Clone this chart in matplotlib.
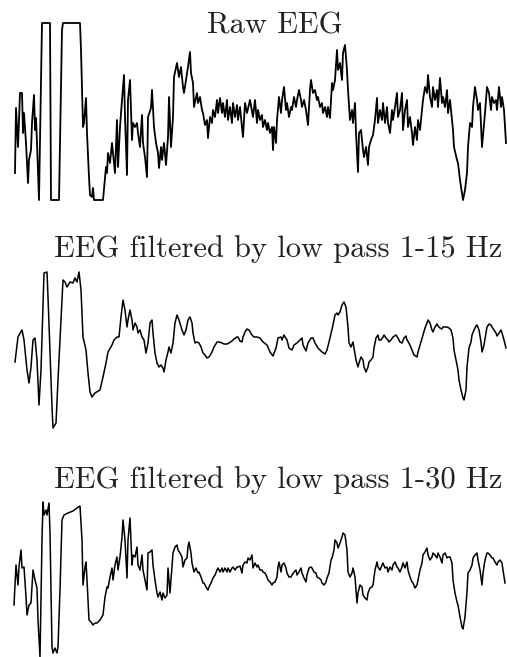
import matplotlib
matplotlib.use('Agg')
import matplotlib.pyplot as plt

# sample positions and amplitudes (arbitrary units)
t_raw = [15, 16, 18, 20, 22, 23, 24, 26, 28, 29, 31, 32, 34, 35, 36, 37, 39, 42, 50, 51,
         59, 62, 63, 80, 81, 83, 84, 86, 87, 89, 90, 92, 93, 94, 103, 106, 107, 108, 110, 112,
         113, 115, 117, 118, 120, 122, 124, 125, 127, 128, 130, 132, 133, 135, 137, 138, 140, 142, 143, 145,
         147, 148, 151, 152, 154, 156, 158, 159, 161, 162, 164, 166, 168, 169, 171, 173, 174, 177, 179, 181,
         183, 184, 186, 188, 190, 191, 193, 194, 197, 198, 200, 202, 203, 205, 207, 208, 210, 212, 213, 215,
         217, 218, 220, 222, 223, 225, 227, 228, 230, 232, 233, 235, 237, 238, 240, 243, 245, 247, 250, 253,
         255, 257, 258, 260, 262, 263, 265, 267, 268, 270, 272, 273, 274, 276, 277, 279, 281, 282, 284, 286,
         287, 289, 291, 292, 294, 296, 297, 299, 301, 302, 304, 306, 308, 310, 311, 313, 315, 317, 318, 320,
         322, 323, 325, 327, 328, 330, 332, 333, 335, 337, 338, 340, 342, 343, 345, 347, 348, 350, 352, 353,
         355, 356, 358, 359, 361, 363, 364, 366, 368, 369, 371, 373, 375, 377, 378, 380, 382, 383, 385, 387,
         388, 390, 392, 393, 395, 397, 398, 400, 402, 403, 405, 407, 408, 410, 412, 413, 415, 417, 418, 420,
         422, 423, 425, 427, 428, 430, 432, 433, 435, 437, 438, 440, 442, 443, 445, 447, 448, 450, 452, 453,
         454, 457, 458, 460, 462, 463, 465, 467, 468, 470, 472, 473, 475, 477, 478, 480, 482, 485, 487, 489,
         491, 492, 494, 496, 497, 499, 501, 502, 504, 506]
raw = [-62, 3, -36, 18, 18, -22, -2, -32, -72, -49, -39, -12, 16, -19, -7, -32, -89, 88, 88, -89,
       -89, 81, 88, 88, 61, -16, -12, 13, -22, -66, -84, -86, -77, -89, -89, -56, -62, -42, -52, -32,
       -42, -62, -9, -56, -16, 11, 36, -6, -64, 11, 31, -29, -12, -16, -12, -22, -36, -4, -32, -46,
       -66, -6, 3, 21, -16, -32, -42, -57, -36, -49, -32, -54, -26, 14, -36, -6, 34, 48, 34, 44,
       24, 18, 31, 44, 59, 38, 28, 4, 18, 8, 14, 1, -2, -14, -9, -27, -6, -12, 1, -6,
       11, -2, 13, -2, 8, -6, 11, -9, 4, -12, 8, -6, 6, -9, 4, -26, 8, -2, 11, -6,
       11, -12, 1, -9, -4, -16, -9, -19, -12, -22, -16, -39, -16, -32, -9, 14, -2, 11, 24, 1,
       8, -6, 4, 1, 14, 4, 11, 21, 11, 4, 11, 1, -14, 21, 31, 18, 21, 11, 14, 4,
       8, -2, 4, -6, 4, -7, 28, 21, 31, 61, 41, 48, 31, 58, 66, 41, 21, -9, 1, -12,
       8, -22, -61, -22, -19, -39, -46, -36, -54, -36, -29, -24, -9, 13, -12, 1, -9, 8, -12, 4,
       -12, -22, 1, -9, 4, 18, -6, 1, 18, -19, 1, 11, -16, -6, -22, -34, -16, -29, -9, -19,
       1, 11, 24, 18, 36, 14, 4, 24, 11, 21, 4, 33, 8, 14, 4, 21, -2, 11, -9, -19,
       -36, -49, -52, -69, -82, -89, -79, -62, -36, -12, -16, 4, 24, 11, 1, 8, -36, -2, 24, 18,
       1, 14, 8, 11, 1, 24, 4, 14, 1, -32]

t_lp15 = [15, 18, 22, 24, 27, 29, 31, 33, 35, 37, 39, 41, 43, 44, 47, 48, 50, 52, 53, 56,
          58, 61, 63, 65, 67, 70, 73, 75, 77, 79, 81, 83, 86, 88, 90, 92, 95, 100, 103, 106,
          108, 112, 114, 117, 119, 121, 123, 125, 127, 128, 130, 132, 133, 135, 137, 138, 140, 142, 144, 146,
          148, 150, 152, 153, 155, 157, 159, 161, 163, 164, 166, 168, 169, 171, 173, 175, 177, 179, 182, 184,
          186, 188, 190, 192, 193, 195, 197, 199, 201, 203, 205, 207, 209, 212, 214, 217, 219, 222, 224, 227,
          229, 232, 234, 237, 238, 240, 242, 243, 245, 247, 249, 252, 254, 257, 260, 263, 267, 270, 273, 276,
          278, 281, 282, 284, 287, 289, 292, 294, 297, 299, 302, 303, 306, 308, 311, 313, 315, 318, 322, 325,
          327, 330, 333, 335, 337, 338, 340, 342, 344, 346, 348, 349, 351, 353, 354, 356, 358, 359, 361, 363,
          364, 366, 368, 369, 371, 373, 374, 376, 378, 379, 381, 383, 384, 386, 388, 389, 391, 393, 396, 398,
          400, 402, 404, 406, 407, 409, 412, 414, 417, 418, 421, 423, 425, 427, 428, 430, 432, 433, 435, 437,
          438, 440, 442, 443, 445, 447, 449, 451, 453, 454, 456, 458, 459, 461, 463, 464, 466, 467, 469, 471,
          472, 474, 476, 477, 479, 481, 482, 484, 486, 487, 489, 491, 492, 494, 496, 497, 499, 501, 502, 504,
          506]
lp15 = [-12, 13, 20, 10, -20, -33, -17, 10, 12, -10, -55, -20, 47, 77, 78, 53, -3, -57, -78, -73,
        -30, 30, 70, 68, 63, 68, 67, 72, 68, 78, 60, 13, 0, -23, -42, -47, -43, -40, -27, -13,
        -2, 5, 10, 13, 13, 33, 50, 40, 23, 30, 40, 30, 20, 27, 23, 17, 20, 13, 10, -3,
        7, 27, 30, 17, -3, -13, -17, -15, -18, -22, -10, -2, 3, -3, 7, 27, 35, 30, 20, 15,
        20, 30, 33, 27, 17, 7, 8, 7, 3, -3, -5, -8, -7, -2, 3, 8, 8, 7, 6, 6,
        7, 9, 11, 13, 13, 9, 8, 13, 18, 21, 20, 15, 13, 13, 12, 8, 5, -2, -6, 2,
        12, 13, 10, 15, 10, 2, 0, 5, 7, 9, 12, 5, -1, 7, 12, 12, 7, 2, -2, -4,
        0, 12, 25, 35, 37, 35, 38, 45, 48, 43, 23, 7, 3, 8, 2, -10, -17, -13, -7, -10,
        -17, -22, -17, -12, -10, -7, 2, 12, 15, 10, 10, 13, 15, 12, 10, 8, 10, 13, 15, 12,
        8, 7, 12, 14, 10, 7, 0, -5, -7, -2, 8, 15, 22, 27, 30, 27, 20, 18, 23, 26,
        24, 22, 21, 23, 23, 23, 22, 20, 12, 0, -10, -20, -30, -40, -48, -50, -40, -17, 2, 8,
        15, 20, 24, 25, 20, 8, -2, 5, 17, 23, 26, 25, 23, 20, 17, 14, 17, 20, 17, 10,
        2]

t_lp30 = [14, 16, 18, 19, 21, 22, 24, 26, 27, 29, 31, 32, 33, 35, 37, 38, 40, 42, 43, 44,
          46, 47, 49, 50, 52, 53, 55, 57, 58, 60, 62, 64, 68, 73, 77, 80, 82, 83, 85, 86,
          87, 89, 91, 93, 95, 97, 100, 103, 105, 107, 108, 110, 112, 113, 115, 117, 118, 120, 122, 123,
          125, 127, 128, 130, 132, 133, 135, 137, 138, 140, 142, 143, 145, 147, 148, 150, 152, 153, 155, 157,
          158, 160, 162, 163, 165, 167, 168, 170, 172, 173, 175, 177, 178, 180, 182, 183, 185, 187, 188, 189,
          191, 192, 194, 196, 198, 199, 201, 203, 204, 206, 208, 209, 211, 213, 215, 217, 218, 220, 222, 223,
          225, 227, 228, 230, 232, 233, 235, 237, 238, 240, 242, 243, 245, 247, 248, 250, 252, 253, 255, 257,
          258, 260, 262, 263, 265, 267, 268, 270, 272, 273, 275, 277, 278, 279, 281, 282, 284, 286, 287, 289,
          291, 292, 294, 296, 297, 299, 301, 302, 304, 306, 307, 309, 311, 312, 314, 316, 317, 319, 321, 322,
          324, 326, 327, 329, 331, 332, 334, 335, 337, 338, 340, 342, 343, 345, 347, 348, 350, 352, 353, 355,
          357, 358, 360, 362, 363, 365, 367, 368, 370, 372, 373, 375, 377, 378, 380, 382, 383, 385, 387, 388,
          390, 392, 393, 395, 397, 398, 400, 402, 403, 405, 407, 408, 410, 412, 413, 415, 417, 418, 420, 422,
          423, 425, 427, 428, 430, 432, 433, 435, 437, 438, 440, 442, 443, 445, 447, 448, 450, 452, 453, 455,
          457, 458, 460, 462, 463, 465, 467, 468, 470, 472, 473, 475, 477, 478, 480, 482, 483, 485, 487, 488,
          490, 492, 493, 495, 497, 498, 500, 502, 503, 505]
lp30 = [-25, 15, -5, 13, 30, 12, 13, -17, -35, -25, -23, -7, 10, 0, -8, -40, -77, 40, 78, 65,
        70, 65, 77, 47, -67, -73, -68, -73, -67, -10, 60, 65, 67, 69, 72, 74, 40, -5, 13, 18,
        0, -40, -42, -45, -43, -43, -40, -35, -17, -7, -8, 3, 12, 0, 15, 23, 10, 23, 43, 60,
        40, 2, 40, 62, 15, 25, 23, 33, 15, 10, 25, 10, 0, -10, 27, 28, 30, 15, 0, -13,
        -17, -12, -20, -13, -18, -15, 12, -13, 13, 27, 33, 35, 30, 27, 23, 13, 20, 22, 33, 38,
        27, 17, 8, 12, 7, 8, 3, -3, -3, -7, -10, -7, -3, 2, 5, 10, 12, 8, 12, 8,
        12, 8, 12, 8, 12, 13, 10, 13, 13, 14, 7, 15, 18, 17, 22, 20, 25, 12, 17, 13,
        15, 10, 10, 8, 7, 3, 0, -2, -5, -3, -2, 3, 13, 18, 8, 15, 17, 12, 7, 3,
        3, 5, 8, 10, 5, 8, 12, 7, 2, -2, 5, 12, 13, 12, 8, 7, 3, 2, 0, -3,
        -5, -2, 2, 7, 20, 22, 30, 40, 37, 32, 37, 43, 47, 45, 30, 8, 3, 7, 12, 3,
        -23, -13, -5, -7, -15, -18, -20, -13, -8, -7, -5, 10, 18, 13, 10, 15, 17, 12, 13, 8,
        13, 10, 15, 18, 13, 12, 8, 13, 17, 12, 18, 10, 3, -2, -3, -8, -5, 0, 10, 17,
        25, 28, 32, 25, 20, 23, 27, 25, 22, 27, 23, 17, 25, 27, 22, 23, 23, 17, 0, -13,
        -22, -25, -37, -47, -49, -37, -12, 7, 10, 15, 22, 25, 27, 20, 10, -5, 7, 20, 27, 27,
        25, 22, 22, 18, 15, 18, 20, 17, 10, -3]

titles = ['Raw EEG', 'EEG filtered by low pass 1-15 Hz', 'EEG filtered by low pass 1-30 Hz']

W, H = 507, 657
fig = plt.figure(figsize=(W / 100, H / 100), dpi=100)

# (top px, bottom px, ylim) for each trace
bands = [(20, 205, (-94, 91)), (265, 435, (-85, 85)), (495, 660, (-80, 85))]
series = [(t_raw, raw), (t_lp15, lp15), (t_lp30, lp30)]
widths = [1.3, 1.1, 1.1]
title_pos = [(275, 33), (278, 257), (278, 488)]

for (top, bot, yl), (t, v), lw, title, (tx, ty) in zip(bands, series, widths, titles, title_pos):
    ax = fig.add_axes([0, 1 - bot / H, 1, (bot - top) / H])
    ax.plot(t, v, color='black', lw=lw)
    ax.set_xlim(0, W)
    ax.set_ylim(*yl)
    ax.axis('off')
    fig.text(tx / W, 1 - ty / H, title, ha='center', va='baseline',
             fontsize=22, family='cmr10', color='#222222')

fig.savefig('out.png', dpi=100)
